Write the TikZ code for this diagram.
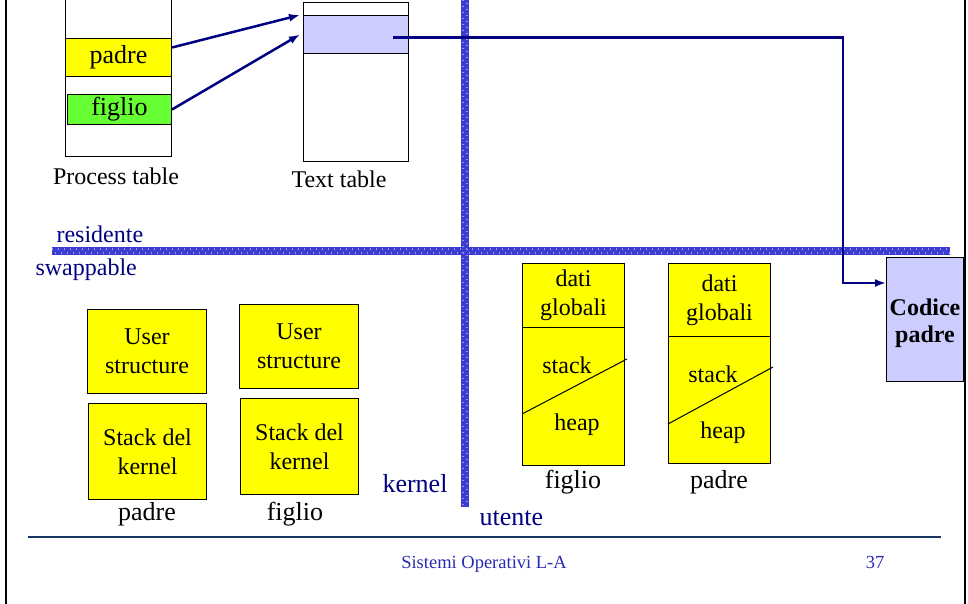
\documentclass[tikz,border=0pt]{standalone}
\usepackage{fontspec}
\setmainfont{Liberation Serif}
\usetikzlibrary{arrows.meta}

\begin{document}
\begin{tikzpicture}[x=1pt,y=-1pt,
  box/.style={draw,line width=1pt,inner sep=0pt,anchor=north west,align=center,font=\fontsize{24}{29}\selectfont},
  txt/.style={font=\fontsize{24}{29}\selectfont},
  lbl/.style={anchor=base,font=\fontsize{26}{30}\selectfont},
  tag/.style={anchor=base west,text=deepnavy,font=\fontsize{26}{30}\selectfont},
  link/.style={draw=deepnavy,line width=2.5pt,-{Latex[length=11pt,width=8pt]}},
  band/.style={line width=8pt,draw=bandblue},
  banddots/.style={line width=1.3pt,draw=bandlight,dash pattern=on 1.3pt off 4.7pt}]
\definecolor{deepnavy}{HTML}{000080}
\definecolor{bandblue}{HTML}{3C3CD2}
\definecolor{bandlight}{HTML}{9A9AEA}
\definecolor{procyellow}{HTML}{FFFF00}
\definecolor{procgreen}{HTML}{66FF33}
\definecolor{lavender}{HTML}{CCCCFF}
\definecolor{footline}{HTML}{17375E}
\definecolor{footblue}{HTML}{2A2AB4}
\path[use as bounding box] (0,0) rectangle (968,604);

% page frame
\draw[line width=2pt] (5.5,0) -- (5.5,604);
\draw[line width=2pt] (964.5,0) -- (964.5,604);

% resident / swappable and kernel / user borders
\draw[band] (52,251) -- (950,251);
\draw[band] (465,0) -- (465,507);
\draw[banddots] (52,249) -- (950,249);
\draw[banddots,dash phase=3pt] (52,253) -- (950,253);
\draw[banddots] (463,0) -- (463,507);
\draw[banddots,dash phase=3pt] (467,0) -- (467,507);

% process table
\draw[line width=1pt] (65,0) |- (171,157) -- (171,0);
\node[box,fill=procyellow,minimum width=106pt,minimum height=38pt,font=\fontsize{26}{30}\selectfont] (ppadre) at (65,38) {padre};
\node[box,fill=procgreen,minimum width=104pt,minimum height=30pt,font=\fontsize{26}{30}\selectfont] (pfiglio) at (67,94) {figlio};
\node[txt,anchor=base] (ptabname) at (116,184) {Process table};

% text table
\node[box,minimum width=105pt,minimum height=159pt] (ttab) at (303,2) {};
\node[box,fill=lavender,minimum width=105pt,minimum height=38pt] (ttrow) at (303,15) {};
\node[txt,anchor=base] (ttabname) at (339,187) {Text table};
\coordinate (tin1) at ([xshift=-3pt,yshift=-13pt]ttab.north west);
\coordinate (tin2) at ([xshift=-3pt]ttrow.west);
\coordinate (tsrc) at ([xshift=-16pt,yshift=-3pt]ttrow.east);

\draw[link] ([yshift=10pt]ppadre.east) -- (tin1);
\draw[link] (pfiglio.east) -- (tin2);

% shared code segment
\node[box,fill=lavender,minimum width=77pt,minimum height=124pt] (codice) at (886,257) {};
\node[align=center,font=\bfseries\fontsize{24}{27}\selectfont] (codicetxt) at ([yshift=-4pt]codice.center) {Codice\\padre};
\coordinate (turn) at (843,283);
\draw[link] (tsrc) -| (turn) -- (turn -| codice.west);

\node[anchor=base west,text=deepnavy,txt] (resid) at (53,242) {residente};
\node[anchor=base west,text=deepnavy,txt] (swap) at (32,275) {swappable};

% kernel areas
\foreach \nm/\x/\y/\lab/\lx in {kp/87/309/padre/147, kf/239/304/figlio/295}
{
  \node[box,fill=procyellow,minimum width=119pt,minimum height=84pt] (\nm user) at (\x,\y) {User\\structure};
  \node[box,fill=procyellow,minimum width=118pt,minimum height=96pt] (\nm stack) at (\x+1,\y+94) {Stack del\\kernel};
  \node[lbl] (\nm name) at (\lx,520) {\lab};
}
\node[tag] (kernel) at (379,492) {kernel};
\node[tag] (utente) at (476,525) {utente};

% user areas
\foreach \nm/\x/\top/\mid/\bot/\dl/\dr/\hy/\lab in {uf/522/263/327/465/52/32/425/figlio, up/668/263/336/463/40/31/433/padre}
{
  \node[box,fill=procyellow,minimum width=102pt,minimum height=\mid-\top] (\nm dati) at (\x,\top) {dati\\globali};
  \node[box,fill=procyellow,minimum width=102pt,minimum height=\bot-\mid] (\nm mem) at (\x,\mid) {};
  \draw[line width=1pt] ([yshift=\dl pt]\nm mem.south west) -- ([xshift=2pt,yshift=-\dr pt]\nm mem.north east);
  \node[txt] (\nm stack) at (\x+45,\mid+38) {stack};
  \node[txt] (\nm heap) at (\x+55,\hy) {heap};
  \node[lbl] (\nm name) at (\x+51,488) {\lab};
}

% footer
\draw[footline,line width=1.5pt] (28,537) -- (941,537);
\node[anchor=base,text=footblue,font=\fontsize{18.5}{20}\selectfont] (foottitle) at (484,568) {Sistemi Operativi L-A};
\node[anchor=base,text=footblue,font=\fontsize{18.5}{20}\selectfont] (footpage) at (875,568) {37};
\end{tikzpicture}
\end{document}
